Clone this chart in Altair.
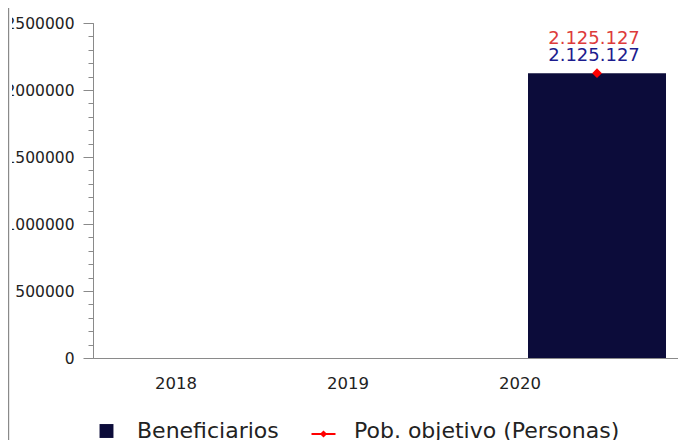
import altair as alt
import pandas as pd

# ---- data ----
years = ["2018", "2019", "2020"]
beneficiarios = [None, None, 2125127]
pob_objetivo = [None, None, 2125127]
series = ["Beneficiarios", "Pob. objetivo (Personas)"]
y_major = [0, 500000, 1000000, 1500000, 2000000, 2500000]
y_minor = list(range(0, 2500001, 100000))
y_max = 2500000

NAVY = "#0c0c3a"
RED = "#ff0000"
RED_TXT = "#dd3b3b"
BLUE_TXT = "#1c1c8e"
AXIS = "#8a8a8a"
FONT = "DejaVu Sans"


def fmt(v):
    return f"{v:,}".replace(",", ".")


bar_df = pd.DataFrame({"year": years, "value": beneficiarios}).dropna()
bar_df["label"] = bar_df["value"].astype(int).map(fmt)

pob_df = pd.DataFrame({"year": years, "value": pob_objetivo}).dropna()
pob_df["label"] = pob_df["value"].astype(int).map(fmt)

leg_df = pd.DataFrame({
    "year": [years[-1], years[-1]],
    "value": [beneficiarios[-1], pob_objetivo[-1]],
    "serie": series,
})

x_enc = alt.X(
    "year:N",
    scale=alt.Scale(domain=years, paddingInner=0.1977, paddingOuter=0.2994, align=0.8835),
    axis=alt.Axis(
        title=None, ticks=False, labelAngle=0, labelOffset=-77,
        labelFontSize=16.5, labelFont=FONT, labelColor="#222222", labelPadding=17,
        domainColor=AXIS, domainWidth=1, grid=False,
    ),
)

y_scale = alt.Scale(domain=[0, y_max], nice=False, zero=True)

bars = alt.Chart(bar_df).mark_bar(color=NAVY, strokeWidth=0).encode(
    x=x_enc,
    y=alt.Y("value:Q", scale=y_scale, axis=alt.Axis(
        title=None, values=y_major, format="d", tickSize=10, labelPadding=9,
        labelFontSize=15.5, labelFont=FONT, labelColor="#222222",
        domainColor=AXIS, tickColor=AXIS, grid=False, orient="left",
    )),
)

minor = alt.Chart(pob_df).mark_point(opacity=0).encode(
    x=x_enc,
    y=alt.Y("value:Q", scale=y_scale, axis=alt.Axis(
        title=None, values=y_minor, labels=False, tickSize=5,
        domainColor=AXIS, tickColor=AXIS, grid=False, orient="left",
    )),
)

pts = alt.Chart(pob_df).mark_point(shape="diamond", filled=True, size=95, color=RED, opacity=1).encode(
    x=x_enc,
    y=alt.Y("value:Q", scale=y_scale, axis=None),
)

txt_blue = alt.Chart(bar_df).mark_text(
    dy=-12, dx=-3, baseline="alphabetic", fontSize=18, font=FONT, color=BLUE_TXT
).encode(
    x=x_enc,
    y=alt.Y("value:Q", scale=y_scale, axis=None),
    text="label:N",
)

txt_red = alt.Chart(pob_df).mark_text(
    dy=-29, dx=-3, baseline="alphabetic", fontSize=18, font=FONT, color=RED_TXT
).encode(
    x=x_enc,
    y=alt.Y("value:Q", scale=y_scale, axis=None),
    text="label:N",
)

sq_path = "M-0.58,-0.58H0.58V0.58H-0.58Z"
line_path = "M-1,0.17H1V0.33H-1Z M-0.3,0.25L0,-0.05L0.3,0.25L0,0.55Z"

leg_opts = dict(
    orient="none", legendX=1.5, legendY=396, direction="horizontal", title=None,
    labelFontSize=22, labelFont=FONT, labelColor="#222222", labelLimit=500,
    symbolSize=576, symbolStrokeWidth=0, symbolOpacity=1, labelOffset=18.5,
    columnPadding=32, padding=0,
)

legend_layer = alt.Chart(leg_df).mark_point(filled=True, opacity=0, size=576).encode(
    x=x_enc,
    y=alt.Y("value:Q", scale=y_scale, axis=None),
    color=alt.Color("serie:N", scale=alt.Scale(domain=series, range=[NAVY, RED]),
                    legend=alt.Legend(**leg_opts)),
    shape=alt.Shape("serie:N", scale=alt.Scale(domain=series, range=[sq_path, line_path]),
                    legend=alt.Legend(**leg_opts)),
)

one = pd.DataFrame({"a": [0]})
mask = alt.Chart(one).mark_rect(color="white").encode(
    x=alt.value(-85), x2=alt.value(-81), y=alt.value(-15), y2=alt.value(420),
)
frame = alt.Chart(one).mark_rule(color=AXIS, strokeWidth=1.2).encode(
    x=alt.value(-84.4), y=alt.value(-15), y2=alt.value(420),
)

chart = alt.layer(bars, minor, pts, txt_blue, txt_red, legend_layer, mask, frame).resolve_axis(
    y="independent"
).properties(
    width=585, height=335,
    autosize=alt.AutoSizeParams(type="none"),
    padding={"left": 85, "top": 15, "right": 0, "bottom": 82},
).configure(font=FONT).configure_view(stroke=None)

chart.save("out.html", embed_options={"renderer": "svg", "actions": False})
